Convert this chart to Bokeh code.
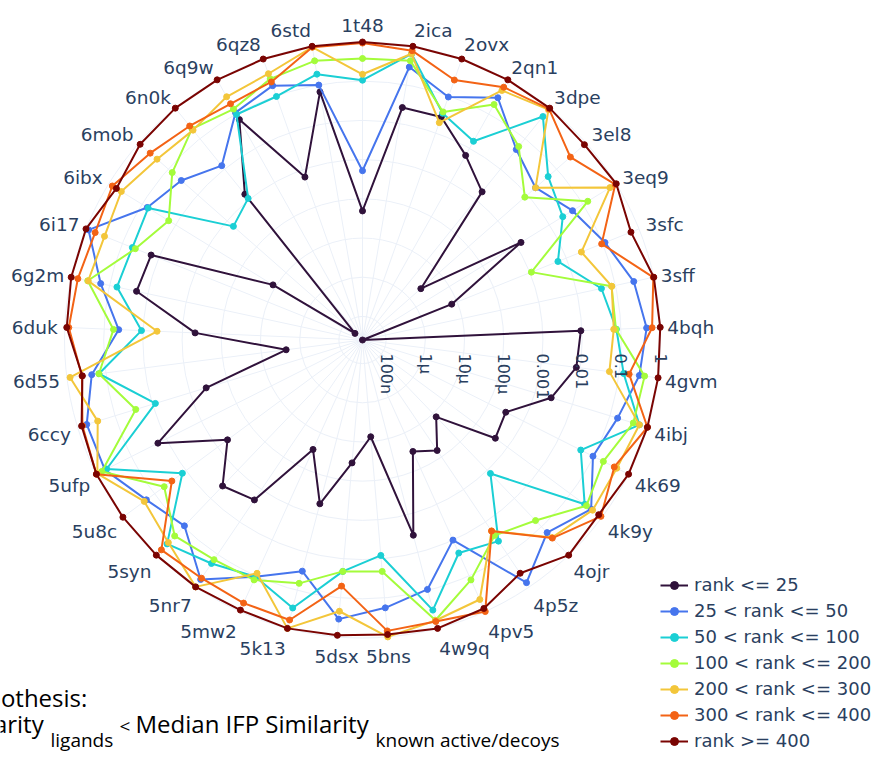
import numpy as np
from bokeh.plotting import figure
from bokeh.models import Range1d, Label, Legend, LegendItem, ColumnDataSource
from bokeh.embed import file_html
from bokeh.resources import INLINE
from bokeh.core.properties import value

# ---------------- data ----------------
categories = ["1t48", "2ica", "2ovx", "2qn1", "3dpe", "3el8", "3eq9", "3sfc", "3sff",
              "4bqh", "4gvm", "4ibj", "4k69", "4k9y", "4ojr", "4p5z", "4pv5", "4w9q",
              "5bns", "5dsx", "5k13", "5mw2", "5nr7", "5syn", "5u8c", "5ufp", "6ccy",
              "6d55", "6duk", "6g2m", "6i17", "6ibx", "6mob", "6n0k", "6q9w", "6qz8", "6std"]

rank_le_25 = [4.9e-5, 0.026, 0.027, 0.0062, 0.0018, 2.4e-6, 0.0014, 7.1e-6, 2.5e-8, 0.0094,
              0.0079, 0.0027, 3.1e-4, 4.1e-4, 1.3e-5, 6.3e-5, 3.3e-5, 0.0035, 7.5e-6, 3.5e-5,
              5.2e-4, 2.9e-5, 0.0021, 0.0036, 4.8e-4, 0.0175, 3.7e-4, 2.3e-6, 4.7e-4, 0.0197,
              0.0162, 1.2e-5, 4.5e-8, 0.0015, 0.069, 6.4e-4, 0.066]
rank_25_50 = [5.2e-4, 0.29, 0.094, 0.30, 0.044, 0.019, 0.049, 0.116, 0.30, 0.45,
              0.33, 0.16, 0.096, 0.45, 0.16, 0.74, 0.010, 0.094, 0.18, 0.35,
              0.031, 0.106, 0.59, 0.092, 0.18, 0.57, 0.57, 0.23, 0.042, 0.17,
              0.85, 0.070, 0.036, 0.013, 0.11, 0.19, 0.099]
rank_50_100 = [0.106, 0.64, 0.034, 0.016, 0.53, 0.051, 0.025, 0.0059, 0.043, 0.076,
               0.13, 0.61, 0.043, 0.28, 0.0013, 0.039, 0.023, 0.33, 0.0082, 0.021,
               0.29, 0.106, 0.19, 0.40, 0.013, 0.51, 0.0084, 0.15, 0.011, 0.064,
               0.053, 0.066, 6.1e-4, 0.0011, 0.097, 0.097, 0.19]
rank_100_200 = [0.38, 0.42, 0.037, 0.19, 0.055, 0.0082, 0.14, 0.0011, 0.079, 0.074,
                0.45, 0.42, 0.19, 0.32, 0.060, 0.026, 0.13, 0.61, 0.021, 0.021,
                0.065, 0.13, 0.145, 0.21, 0.049, 0.70, 0.028, 0.15, 0.057, 0.37,
                0.044, 0.016, 0.073, 0.21, 0.14, 0.29, 0.42]
rank_200_300 = [0.15, 0.64, 0.019, 0.49, 0.89, 0.019, 0.65, 0.026, 0.080, 0.065,
                0.056, 0.61, 0.46, 0.50, 0.24, 0.019, 0.46, 0.62, 1.0, 0.22,
                1.0, 0.085, 1.0, 0.36, 0.21, 0.94, 0.29, 0.83, 0.0044, 0.36,
                0.31, 0.42, 0.24, 0.19, 0.32, 0.40, 0.95]
rank_300_400 = [0.94, 0.77, 0.27, 0.61, 0.94, 0.29, 0.93, 0.094, 0.97, 0.62,
                0.18, 1.0, 0.39, 0.92, 0.25, 0.019, 1.0, 0.66, 0.70, 0.050,
                0.60, 0.58, 0.54, 0.65, 0.028, 1.0, 0.74, 0.41, 0.79, 0.67,
                0.56, 0.78, 0.41, 0.26, 0.20, 0.24, 0.95]
rank_ge_400 = [1.0, 1.0, 1.0, 1.0, 1.0, 0.87, 1.0, 0.60, 1.0, 1.0,
               1.0, 1.0, 1.0, 0.78, 1.0, 0.38, 0.82, 1.0, 0.87, 0.91,
               1.0, 0.91, 1.0, 1.0, 1.0, 1.0, 0.78, 0.40, 0.89, 1.0,
               1.0, 0.59, 0.90, 1.0, 1.0, 1.0, 1.0]

series_names = ["rank <= 25", "25 < rank <= 50", "50 < rank <= 100", "100 < rank <= 200",
                "200 < rank <= 300", "300 < rank <= 400", "rank >= 400"]
series_colors = ["#30123b", "#4675ed", "#1bcfd4", "#a4fc3b", "#f3c63a", "#f36315", "#7a0402"]

tick_values = [1e-7, 1e-6, 1e-5, 1e-4, 1e-3, 1e-2, 1e-1, 1.0]
tick_labels = ["100n", "1\u03bc", "10\u03bc", "100\u03bc", "0.001", "0.01", "0.1", "1"]

# ---------------- layout ----------------
W, H = 873, 751
CX, CY = 362.0, 339.5          # polar centre, px from the canvas top-left
R_OUT = 298.0                  # outer radius, px
PAD, FS = 7.0, 18.5            # angular label stand-off and font size
MID = 0.34                     # baseline -> text middle, in em
GRID = "#EBF0F8"
TXT = "#2a3f5f"
FONT = "DejaVu Sans"


def sx(px):
    return px - CX


def sy(py):
    return CY - py


all_series = [rank_le_25, rank_25_50, rank_50_100, rank_100_200, rank_200_300, rank_300_400, rank_ge_400]
all_vals = np.concatenate([np.asarray(s, dtype=float) for s in all_series])
lo = np.log10(all_vals.min())
hi = np.log10(all_vals.max())


def radius(v):
    return R_OUT * (np.log10(np.asarray(v, dtype=float)) - lo) / (hi - lo)


N = len(categories)
theta = np.pi / 2 - 2 * np.pi * np.arange(N) / N
cos_t, sin_t = np.cos(theta), np.sin(theta)

p = figure(width=W, height=H,
           x_range=Range1d(sx(0), sx(W)), y_range=Range1d(sy(H), sy(0)),
           output_backend="svg", toolbar_location=None, min_border=0,
           x_axis_location=None, y_axis_location=None, outline_line_color=None,
           background_fill_color="white", border_fill_color="white")
p.grid.visible = False

# spokes
p.segment(x0=np.zeros(N), y0=np.zeros(N), x1=R_OUT * cos_t, y1=R_OUT * sin_t,
          line_color=GRID, line_width=1)
# radial grid circles
ring_r = radius(tick_values)
p.circle(x=np.zeros(len(ring_r)), y=np.zeros(len(ring_r)), radius=ring_r,
         fill_color=None, line_color=GRID, line_width=1)

# series
items = []
for name, vals, color in zip(series_names, all_series, series_colors):
    r = radius(vals)
    x = r * cos_t
    y = r * sin_t
    lr = p.line(np.append(x, x[0]), np.append(y, y[0]), line_color=color, line_width=2)
    sr = p.scatter(x, y, size=6, fill_color=color, line_color=color)
    items.append(LegendItem(label=name, renderers=[lr, sr]))

# angular tick labels (plotly-like placement; anchored at the text middle)
lab_x, lab_y, lab_align = [], [], []
for c, s in zip(cos_t, sin_t):
    ff = 0.2 if s > 0 else 1.0
    lab_x.append((R_OUT + PAD) * c)
    base = R_OUT * s + s * (PAD + FS * ff) - abs(c) * FS * 0.35
    lab_y.append(base + MID * FS)
    lab_align.append("center" if abs(c) < 0.1 else ("left" if c > 0 else "right"))
for al in ["left", "center", "right"]:
    idx = [i for i in range(N) if lab_align[i] == al]
    src = ColumnDataSource(dict(x=[lab_x[i] for i in idx], y=[lab_y[i] for i in idx],
                                t=[categories[i] for i in idx]))
    p.text(x="x", y="y", text="t", source=src, text_align=al, text_baseline="middle",
           text_font=value(FONT), text_font_size="%.1fpx" % FS, text_color=TXT)

# radial tick labels (rotated)
p.text(x=ring_r, y=[sy(353)] * len(ring_r), text=tick_labels, angle=-np.pi / 2,
       text_align="left", text_baseline="middle", text_font=value(FONT),
       text_font_size="16px", text_color=TXT)

# legend
legend = Legend(items=items, location=(660, 0), orientation="vertical",
                label_text_font=FONT, label_text_font_size="18px", label_text_color=TXT,
                glyph_width=28, glyph_height=20, label_height=20, label_standoff=6,
                spacing=5, padding=0, margin=0, border_line_color=None,
                background_fill_alpha=0)
p.add_layout(legend)

# hypothesis annotation (partly off the left edge, as in the original)
ANN = "Open Sans"
ann = [  # text, left x, baseline y (px from top-left), font px
    ("Hypothesis:", -44, 705, 24),
    ("Median IFP Similarity", -190, 731, 24),
    ("ligands", 50, 745.5, 19),
    ("<", 119, 731.5, 19),
    ("Median IFP Similarity", 135, 731, 24),
    ("known active/decoys", 375, 745.5, 19),
]
for t, px_, py_, fs_ in ann:
    p.add_layout(Label(x=sx(px_), y=sy(py_) + MID * fs_, text=t, text_font=ANN,
                       text_font_size="%dpx" % fs_, text_color="black",
                       text_align="left", text_baseline="middle"))

open("out.html", "w").write(file_html(p, INLINE))
